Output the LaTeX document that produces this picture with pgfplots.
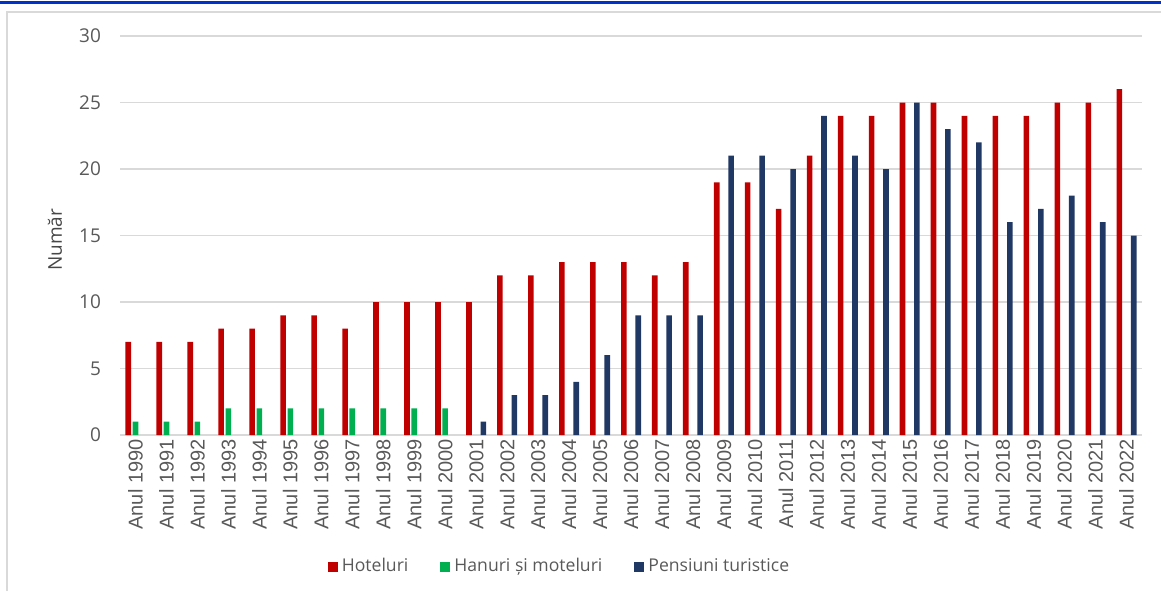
\documentclass[border=0pt]{standalone}
\usepackage{pgfplots}
\pgfplotsset{compat=1.18}
\usepackage{fontspec}
\setmainfont{Open Sans}
\newfontfamily\xfont{Liberation Sans}
\definecolor{cred}{HTML}{C00000}
\definecolor{cgreen}{HTML}{00B050}
\definecolor{cblue}{HTML}{1F3864}
\definecolor{cgrid}{HTML}{D9D9D9}
\definecolor{ctext}{HTML}{595959}
\definecolor{ctop}{HTML}{0033CC}
\begin{document}
\begin{tikzpicture}
\path[use as bounding box] (-60pt,-78pt) rectangle (520.5pt,217.5pt);
\draw[ctop, line width=1.5pt] (-60pt,216.5pt) -- (520.5pt,216.5pt);
\draw[cgrid, line width=0.8pt] (-56.5pt,-78pt) -- (-56.5pt,211.5pt) -- (520.5pt,211.5pt);
\begin{axis}[
  at={(0pt,0pt)}, anchor=south west,
  width=511pt, height=199.5pt, scale only axis,
  xmin=-0.5, xmax=32.5, ymin=0, ymax=30,
  ytick={0,5,...,30},
  xtick={0,...,32},
  xticklabels={Anul 1990,Anul 1991,Anul 1992,Anul 1993,Anul 1994,Anul 1995,Anul 1996,Anul 1997,Anul 1998,Anul 1999,Anul 2000,Anul 2001,Anul 2002,Anul 2003,Anul 2004,Anul 2005,Anul 2006,Anul 2007,Anul 2008,Anul 2009,Anul 2010,Anul 2011,Anul 2012,Anul 2013,Anul 2014,Anul 2015,Anul 2016,Anul 2017,Anul 2018,Anul 2019,Anul 2020,Anul 2021,Anul 2022},
  xticklabel style={rotate=90, anchor=east, font=\xfont\fontsize{10}{11}\selectfont, text=ctext, inner sep=2pt},
  yticklabel style={font=\fontsize{9.5}{11}\selectfont, text=ctext, xshift=-6pt},
  /pgf/number format/assume math mode=true,
  major tick length=0pt,
  axis x line*=bottom, axis y line*=left,
  y axis line style={draw=none},
  x axis line style={draw=cgrid, line width=0.8pt},
  ymajorgrids, grid style={cgrid, line width=0.8pt},
  ylabel={Număr},
  ylabel style={at={(axis description cs:-0.0636,0.489)}, anchor=center, font=\fontsize{9.5}{11}\selectfont, text=ctext!80!black},
  legend style={at={(rel axis cs:0.431,-0.33)}, anchor=center, draw=none, fill=none,
    legend columns=3, font=\fontsize{8.8}{10}\selectfont, text=ctext,
    /tikz/every even column/.append style={column sep=14pt}},
  legend cell align=left,
  ybar, bar width=2.8pt,
]
\addplot[fill=cred, draw=none, bar shift=-3.6pt,
  legend image code/.code={\fill[cred] (0pt,-2.5pt) rectangle (5pt,2.5pt);}] coordinates {
(0,7)(1,7)(2,7)(3,8)(4,8)(5,9)(6,9)(7,8)(8,10)(9,10)(10,10)(11,10)(12,12)(13,12)(14,13)(15,13)(16,13)(17,12)(18,13)(19,19)(20,19)(21,17)(22,21)(23,24)(24,24)(25,25)(26,25)(27,24)(28,24)(29,24)(30,25)(31,25)(32,26)};
\addlegendentry{Hoteluri}
\addplot[fill=cgreen, draw=none, bar shift=0pt,
  legend image code/.code={\fill[cgreen] (0pt,-2.5pt) rectangle (5pt,2.5pt);}] coordinates {
(0,1)(1,1)(2,1)(3,2)(4,2)(5,2)(6,2)(7,2)(8,2)(9,2)(10,2)};
\addlegendentry{Hanuri și moteluri}
\addplot[fill=cblue, draw=none, bar shift=3.6pt,
  legend image code/.code={\fill[cblue] (0pt,-2.5pt) rectangle (5pt,2.5pt);}] coordinates {
(11,1)(12,3)(13,3)(14,4)(15,6)(16,9)(17,9)(18,9)(19,21)(20,21)(21,20)(22,24)(23,21)(24,20)(25,25)(26,23)(27,22)(28,16)(29,17)(30,18)(31,16)(32,15)};
\addlegendentry{Pensiuni turistice}
\end{axis}
\end{tikzpicture}
\end{document}
